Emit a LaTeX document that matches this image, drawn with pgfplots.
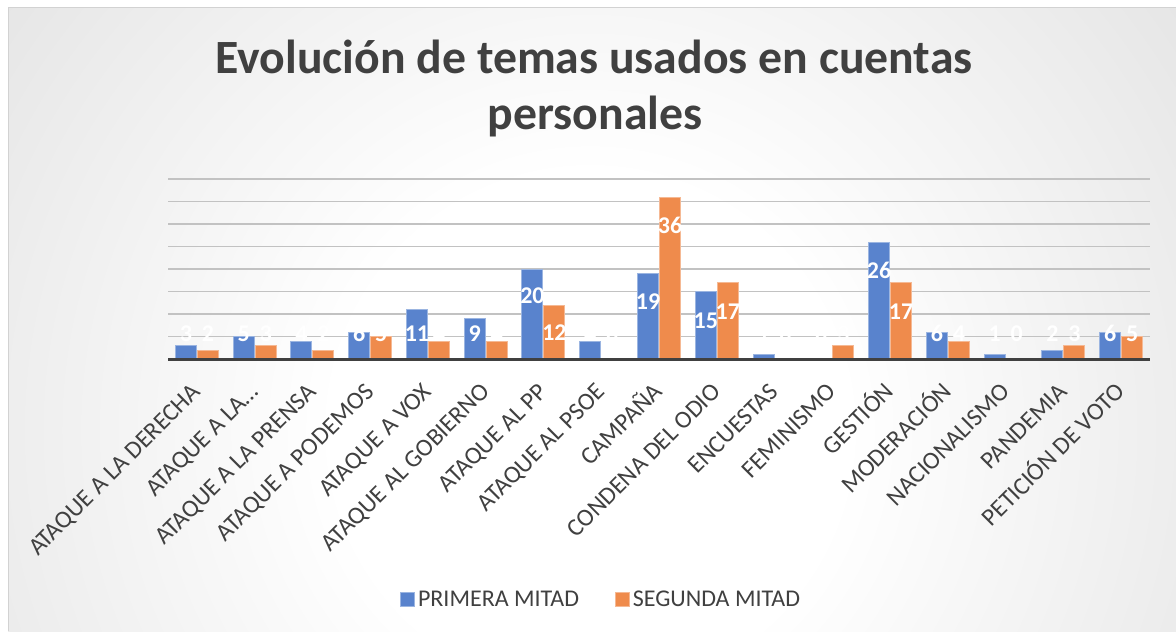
\documentclass[border=0pt]{standalone}
\usepackage{fontspec}
\setmainfont{Carlito}
\usepackage{pgfplots}
\pgfplotsset{compat=1.18}
\usepackage{pgfplotstable}
\definecolor{cblue}{HTML}{5983CD}
\definecolor{corange}{HTML}{EF8B4C}
\definecolor{txt}{HTML}{404040}
\definecolor{gridc}{HTML}{C2C2C2}
\definecolor{bg1}{HTML}{E2E2E2}
\definecolor{bgA}{HTML}{C8C8C8}
\definecolor{bgB}{HTML}{BCBCBC}
\pgfdeclareradialshading{bgshade}{\pgfpoint{0bp}{0bp}}{color(0bp)=(white); color(8bp)=(white); color(25bp)=(bg1); color(37bp)=(bgA); color(50bp)=(bgB); color(75bp)=(bgB)}
\newcommand{\titlefont}{\fontsize{35.8}{42}\selectfont\bfseries}
\newcommand{\lblfont}{\fontsize{18}{21.6}\selectfont}
\newcommand{\ticklblfont}{\fontsize{18.5}{22}\selectfont}
\newcommand{\lblbold}{\fontsize{18}{21.6}\selectfont\bfseries}
\pgfplotsset{sqlegend/.style={legend image code/.code={\draw[##1, line width=0.75pt] (0pt,-5.25pt) rectangle (10.5pt,5.25pt);}}}
\pgfplotstableread{
i a b la lb
0 3 2 5.7 5.7
1 5 3 5.7 5.7
2 4 2 5.7 5.7
3 6 5 5.7 5.7
4 11 4 5.7 5.7
5 9 4 5.7 5.7
6 20 12 14.0 5.8
7 4 0 5.7 5.7
8 19 36 12.8 29.6
9 15 17 8.6 10.6
10 1 0 5.7 5.7
11 0 3 5.7 5.7
12 26 17 19.8 10.6
13 6 4 5.7 5.7
14 1 0 5.7 5.7
15 2 3 5.7 5.7
16 6 5 5.7 5.7
}\data
\begin{document}
\begin{tikzpicture}
\useasboundingbox (0,0) rectangle (882pt,-473.25pt);
\begin{scope}[x=0.75pt,y=-0.75pt]
\begin{scope}
\clip (8,8) rectangle (1176,631);
\shade[shading=bgshade] (-210,-370) rectangle (1390,1230);
\end{scope}
\draw[gray!35, line width=0.75pt] (8,631) -- (8,8) -- (1176,8);
\node[anchor=base, text=txt, font=\titlefont, inner sep=0pt] at (594,74) {Evolución de temas usados en cuentas};
\node[anchor=base, text=txt, font=\titlefont, inner sep=0pt] at (595,130) {personales};
\end{scope}
\begin{axis}[
  at={(126pt,-269.25pt)}, anchor=south west,
  scale only axis, width=736.5pt, height=135pt,
  xmin=-0.5, xmax=16.5, ymin=0, ymax=40,
  axis line style={draw=none},
  tick style={draw=none},
  ytick={5,10,15,20,25,30,35,40}, yticklabels={},
  ymajorgrids, major grid style={gridc, line width=1.1pt},
  xtick={0,1,2,3,4,5,6,7,8,9,10,11,12,13,14,15,16},
  xticklabels={ATAQUE A LA DERECHA, {ATAQUE A LA…}, ATAQUE A LA PRENSA, ATAQUE A PODEMOS, ATAQUE A VOX, ATAQUE AL GOBIERNO, ATAQUE AL PP, ATAQUE AL PSOE, CAMPAÑA, CONDENA DEL ODIO, ENCUESTAS, FEMINISMO, GESTIÓN, MODERACIÓN, NACIONALISMO, PANDEMIA, PETICIÓN DE VOTO},
  xticklabel style={font=\ticklblfont, text=txt, inner sep=0pt, text height=11.7pt, text depth=0pt, xshift=-4.5pt, yshift=-17pt, rotate=45, anchor=north east},
  clip=false,
  legend style={at={(0.4415,-1.336)}, anchor=center, draw=none, fill=none, font=\lblfont, text=txt, legend columns=2, /tikz/every even column/.append style={column sep=25pt}},
]
\addplot[ybar, forget plot, bar width=15.75pt, bar shift=-8.25pt, fill=cblue, draw=cblue!60!white, line width=0.75pt,
  nodes near coords, nodes near coords align=center, point meta=explicit symbolic,
  visualization depends on={\thisrow{la}-\thisrow{a} \as \dl},
  every node near coord/.append style={anchor=center, xshift=-8.25pt, yshift=\dl*3.375pt, font=\lblbold, text=white, inner sep=1pt}]
  table[x=i, y=a, meta=a] {\data};
\addplot[ybar, forget plot, bar width=15.75pt, bar shift=8.25pt, fill=corange, draw=corange!60!white, line width=0.75pt,
  nodes near coords, nodes near coords align=center, point meta=explicit symbolic,
  visualization depends on={\thisrow{lb}-\thisrow{b} \as \dl},
  every node near coord/.append style={anchor=center, xshift=8.25pt, yshift=\dl*3.375pt, font=\lblbold, text=white, inner sep=1pt}]
  table[x=i, y=b, meta=b] {\data};
\draw[txt, line width=2.25pt] (rel axis cs:0,0) -- (rel axis cs:1,0);
\addlegendimage{sqlegend, fill=cblue, draw=cblue!60!white}
\addlegendentry{PRIMERA MITAD}
\addlegendimage{sqlegend, fill=corange, draw=corange!60!white}
\addlegendentry{SEGUNDA MITAD}
\end{axis}
\end{tikzpicture}
\end{document}
